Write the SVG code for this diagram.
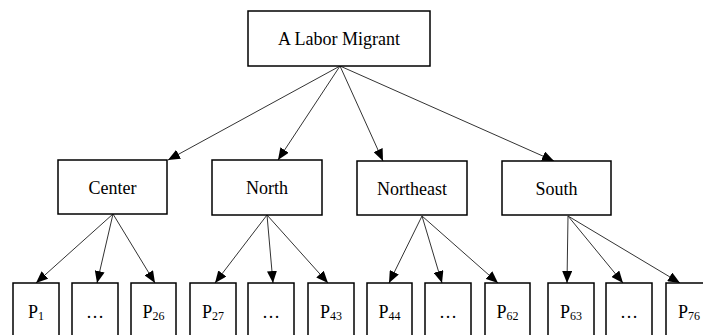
<svg xmlns="http://www.w3.org/2000/svg" width="703" height="335" viewBox="0 0 703 335">
<defs>
<marker id="ah" markerUnits="userSpaceOnUse" markerWidth="12" markerHeight="10" viewBox="0 0 12 10" refX="12" refY="5" orient="auto">
<path d="M0,0 L12,5 L0,10 Z" fill="#000"/>
</marker>
<style>
.box{fill:#fff;stroke:#000;stroke-width:1.5}
.lbl{font-size:18px;fill:#000;text-anchor:middle}
.sub{font-size:12px}
.edge{stroke:#333;stroke-width:1;fill:none;marker-end:url(#ah)}
</style>
</defs>
<rect width="703" height="335" fill="#fff"/>
<g id="connectors">
<line class="edge" x1="340" y1="66" x2="168" y2="160"/>
<line class="edge" x1="340" y1="66" x2="278" y2="160"/>
<line class="edge" x1="340" y1="66" x2="383" y2="161"/>
<line class="edge" x1="340" y1="66" x2="554" y2="161"/>
<line class="edge" x1="113" y1="214" x2="36" y2="283"/>
<line class="edge" x1="113" y1="214" x2="97" y2="283"/>
<line class="edge" x1="113" y1="214" x2="155" y2="283"/>
<line class="edge" x1="267" y1="215" x2="215" y2="283"/>
<line class="edge" x1="267" y1="215" x2="273" y2="283"/>
<line class="edge" x1="267" y1="215" x2="328" y2="283"/>
<line class="edge" x1="422" y1="216" x2="389" y2="283"/>
<line class="edge" x1="422" y1="216" x2="442" y2="283"/>
<line class="edge" x1="422" y1="216" x2="498" y2="283"/>
<line class="edge" x1="568" y1="216" x2="567" y2="283"/>
<line class="edge" x1="568" y1="216" x2="623" y2="283"/>
<line class="edge" x1="568" y1="216" x2="680" y2="283"/>
</g>
<g font-family="'Liberation Serif', 'DejaVu Serif', serif">
<g id="root"><rect class="box" x="248" y="11" width="182" height="55"/><text class="lbl" x="339" y="45">A Labor Migrant</text></g>
<g id="center"><rect class="box" x="58" y="160" width="109" height="54"/><text class="lbl" x="112.5" y="194">Center</text></g>
<g id="north"><rect class="box" x="212" y="160" width="110" height="55"/><text class="lbl" x="267" y="194">North</text></g>
<g id="northeast"><rect class="box" x="357" y="161" width="110" height="54"/><text class="lbl" x="412" y="195">Northeast</text></g>
<g id="south"><rect class="box" x="502" y="161" width="109" height="54"/><text class="lbl" x="556.5" y="195">South</text></g>
<g id="p1"><rect class="box" x="13" y="283" width="46" height="60"/><text class="lbl" x="36" y="318">P<tspan class="sub" dy="2">1</tspan></text></g>
<g id="c-dots"><rect class="box" x="72" y="283" width="46" height="60"/><text class="lbl" x="95" y="318">…</text></g>
<g id="p26"><rect class="box" x="131" y="283" width="45" height="60"/><text class="lbl" x="153.5" y="318">P<tspan class="sub" dy="2">26</tspan></text></g>
<g id="p27"><rect class="box" x="190" y="283" width="46" height="60"/><text class="lbl" x="213" y="318">P<tspan class="sub" dy="2">27</tspan></text></g>
<g id="n-dots"><rect class="box" x="248" y="283" width="46" height="60"/><text class="lbl" x="271" y="318">…</text></g>
<g id="p43"><rect class="box" x="308" y="283" width="46" height="60"/><text class="lbl" x="331" y="318">P<tspan class="sub" dy="2">43</tspan></text></g>
<g id="p44"><rect class="box" x="367" y="283" width="45" height="60"/><text class="lbl" x="389.5" y="318">P<tspan class="sub" dy="2">44</tspan></text></g>
<g id="ne-dots"><rect class="box" x="425" y="283" width="46" height="60"/><text class="lbl" x="448" y="318">…</text></g>
<g id="p62"><rect class="box" x="485" y="283" width="45" height="60"/><text class="lbl" x="507.5" y="318">P<tspan class="sub" dy="2">62</tspan></text></g>
<g id="p63"><rect class="box" x="548" y="283" width="46" height="60"/><text class="lbl" x="571" y="318">P<tspan class="sub" dy="2">63</tspan></text></g>
<g id="s-dots"><rect class="box" x="606" y="283" width="46" height="60"/><text class="lbl" x="629" y="318">…</text></g>
<g id="p76"><rect class="box" x="666" y="283" width="46" height="60"/><text class="lbl" x="689" y="318">P<tspan class="sub" dy="2">76</tspan></text></g>
</g>
</svg>
